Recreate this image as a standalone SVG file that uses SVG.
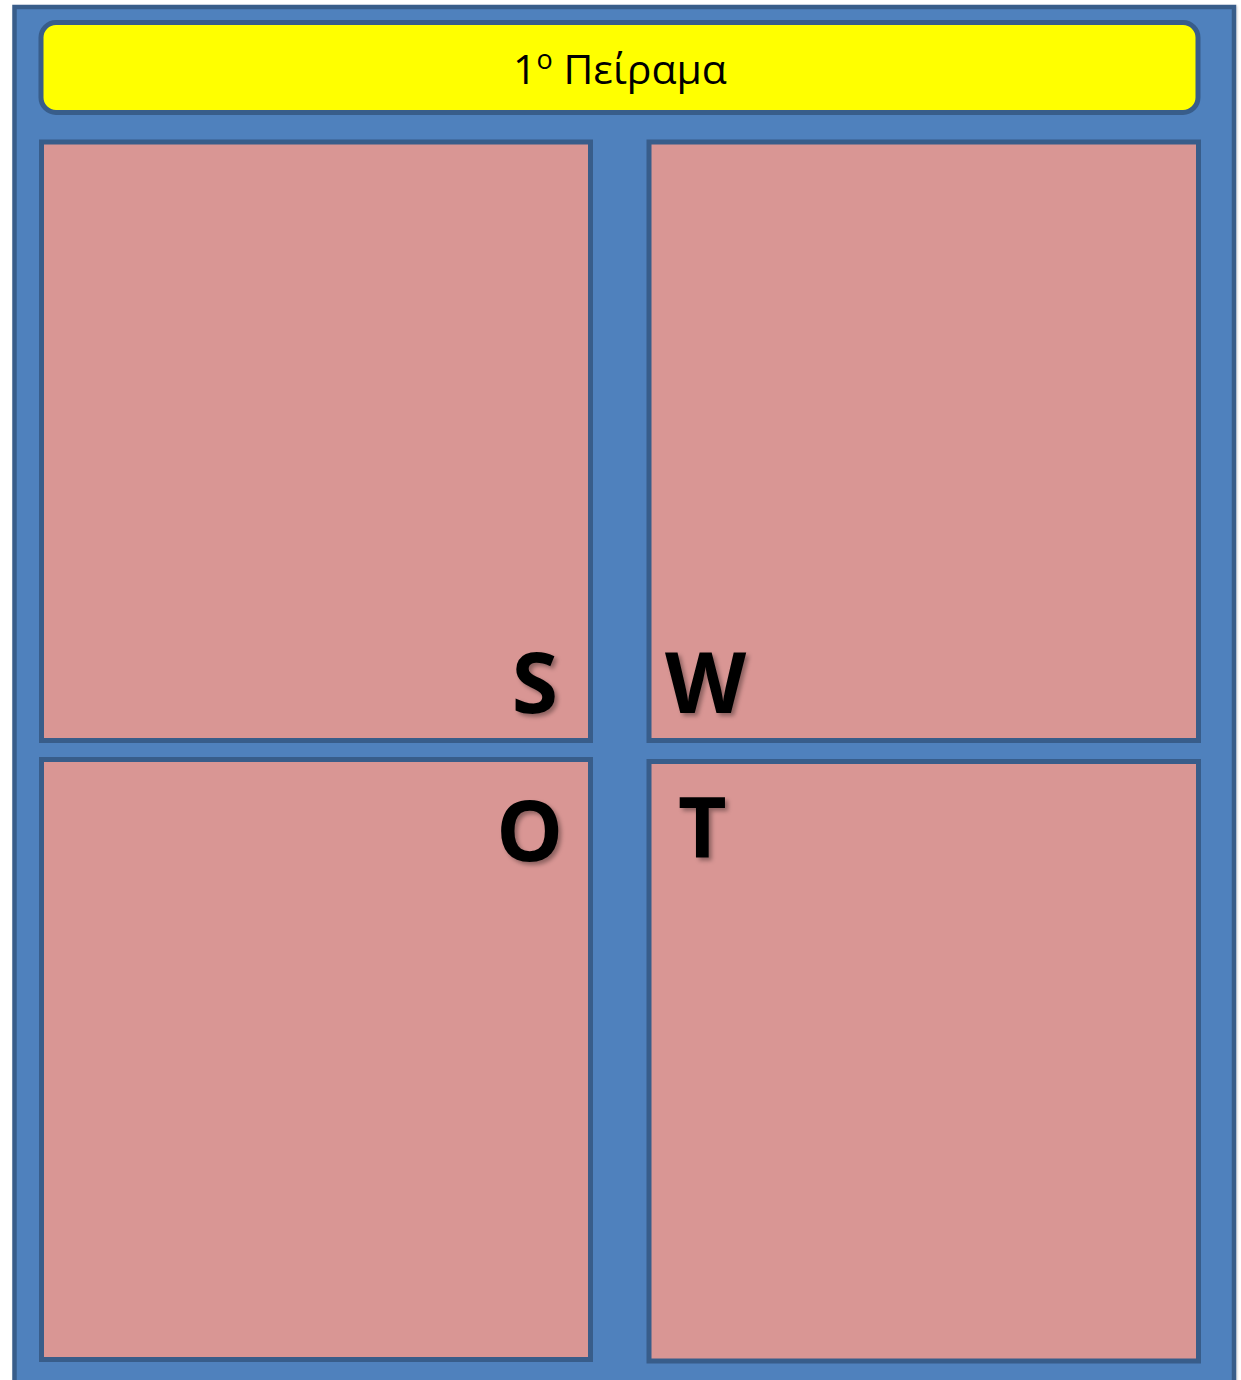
<svg xmlns="http://www.w3.org/2000/svg" width="1241" height="1380" viewBox="0 0 1241 1380">
<defs>
<filter id="sh" x="-20%" y="-20%" width="150%" height="150%">
<feDropShadow dx="3" dy="3" stdDeviation="2" flood-color="#000" flood-opacity="0.35"/>
</filter>
<filter id="bs" x="-2%" y="-2%" width="104%" height="104%">
<feDropShadow dx="1" dy="1" stdDeviation="1" flood-color="#000" flood-opacity="0.2"/>
</filter>
</defs>
<style>
.frame{fill:#4F81BD;stroke:#385D8A;stroke-width:4.5}
.box{fill:#D99694;stroke:#385D8A;stroke-width:5}
.title{fill:#FFFF00;stroke:#385D8A;stroke-width:5}
.t{font-family:"Open Sans","Noto Sans",sans-serif;font-size:41px;fill:#000}
.L{font-family:"Open Sans","Noto Sans",sans-serif;font-weight:bold;font-size:84px;fill:#000}
</style>
<g id="frame"><rect class="frame" x="14.5" y="7" width="1219.5" height="1380" filter="url(#bs)"/></g>
<g id="title">
<rect class="title" x="41" y="22.5" width="1157" height="90" rx="15" ry="15"/>
<text class="t" x="620" y="84" text-anchor="middle">1<tspan font-size="27" dy="-15">ο</tspan><tspan dy="15"> Πείραμα</tspan></text>
</g>
<g id="S"><rect class="box" x="41.5" y="142" width="549" height="598.5"/><text class="L" x="558" y="713" text-anchor="end" filter="url(#sh)">S</text></g>
<g id="W"><rect class="box" x="649" y="142" width="549.5" height="598.5"/><text class="L" x="665" y="713" filter="url(#sh)">W</text></g>
<g id="O"><rect class="box" x="41.5" y="759.5" width="549" height="600"/><text class="L" x="563" y="861" text-anchor="end" filter="url(#sh)">O</text></g>
<g id="T"><rect class="box" x="649" y="761.5" width="549.5" height="599.5"/><text class="L" x="678" y="858" filter="url(#sh)">T</text></g>
<g id="connectors"/>
</svg>
